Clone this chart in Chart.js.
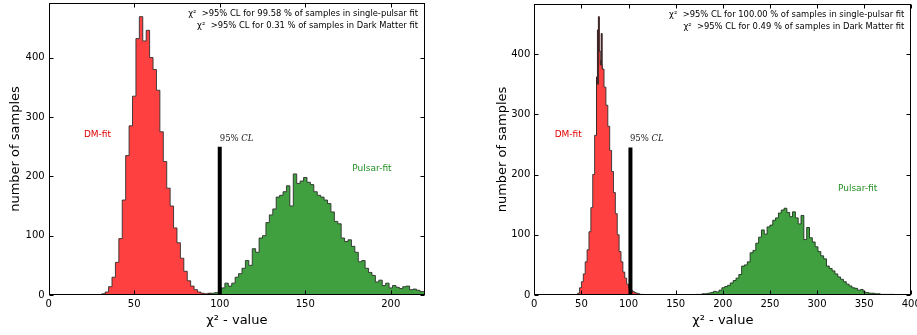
<!DOCTYPE html>
<html>
<head>
<meta charset="utf-8">
<script src="https://cdn.jsdelivr.net/npm/chart.js@4.4.1/dist/chart.umd.min.js"></script>
<style>
  body { margin: 0; background: #fff; }
  .panel { position: absolute; top: 0; height: 335px; overflow: hidden; }
</style>
</head>
<body>
<div class="panel" style="left:0;width:458px"><canvas id="leftChart" width="458" height="335"></canvas></div>
<div class="panel" style="left:458px;width:459px"><canvas id="rightChart" width="490" height="335"></canvas></div>
<script>
// Tick labels
const yTicks = [0, 100, 200, 300, 400];
const leftXTicks = [0, 50, 100, 150, 200];
const rightXTicks = [0, 50, 100, 150, 200, 250, 300, 350, 400];

// Left panel: chi^2 histograms, bins of 2
const leftBinWidth = 2;
const leftDmStart = 31;
const leftDmCounts = [2, 5, 14, 30, 55, 95, 160, 235, 285, 335, 432, 469, 428, 446, 400, 380, 345,
    275, 225, 180, 150, 113, 88, 62, 40, 24, 15, 9, 5, 3, 2, 2, 1];
const leftPulsarStart = 93;
const leftPulsarCounts = [3, 3, 4, 4, 12, 20, 15, 20, 30, 36, 45, 58, 50, 78, 72, 96, 100, 122, 135,
    145, 165, 168, 174, 184, 150, 204, 188, 192, 198, 190, 186, 174, 168, 165, 160, 154, 140, 124,
    120, 96, 90, 93, 82, 72, 56, 58, 45, 38, 33, 22, 25, 16, 20, 12, 16, 13, 11, 14, 15, 9, 10, 8, 6, 6];
const leftCL = 100;
const leftCLHeight = 250;

// Right panel
const rightDmBinWidth = 2;
const rightDmStart = 46;
const rightDmCounts = [3, 12, 22, 35, 55, 75, 105, 145, 200, 265, 350, 405, 382, 375, 345, 315, 280,
    240, 205, 170, 135, 100, 72, 55, 38, 28, 18, 12, 8, 6, 4, 3, 2, 1, 1];
// finer-binned spikes that show dark above the red peak
const rightPeakBinWidth = 1;
const rightPeakStart = 66;
const rightPeakCounts = [362, 440, 462, 390, 385, 434, 370];
const rightPulsarBinWidth = 3;
const rightPulsarStart = 172;
const rightPulsarCounts = [1, 1, 2, 2, 3, 4, 6, 5, 8, 12, 14, 16, 20, 24, 28, 34, 48, 50, 55, 70, 74,
    86, 96, 108, 101, 113, 116, 124, 128, 136, 141, 144, 137, 130, 138, 128, 118, 132, 92, 112, 95,
    88, 80, 72, 65, 60, 48, 44, 40, 35, 30, 26, 22, 18, 15, 12, 11, 8, 9, 5, 4, 3, 3, 2, 2, 1, 1, 1, 1, 1];
const rightCL = 102;
const rightCLHeight = 245;

Chart.defaults.font.family = 'DejaVu Sans';
Chart.defaults.color = '#000';

// Turn bin counts into step outline points
function histPoints(start, width, counts) {
    const pts = [{ x: start, y: 0 }];
    counts.forEach((c, i) => pts.push({ x: start + i * width, y: c }));
    pts.push({ x: start + counts.length * width, y: 0 });
    return pts;
}

function histDataset(points, fill, edge, order) {
    return {
        data: points,
        stepped: true,
        fill: 'origin',
        backgroundColor: fill,
        borderColor: edge,
        borderWidth: 1,
        pointRadius: 0,
        order
    };
}

function clDataset(x, h) {
    return {
        data: [{ x, y: 0 }, { x, y: h }],
        borderColor: '#000',
        borderWidth: 4,
        pointRadius: 0,
        order: 0
    };
}

// Frame, inward ticks and text labels
const panelDecor = {
    id: 'panelDecor',
    afterDatasetsDraw(chart, args, opts) {
        const { ctx, chartArea: a, scales: { x, y } } = chart;
        const L = Math.round(a.left) + 0.5, R = Math.round(a.right) - 0.5;
        const T = Math.round(a.top) + 0.5, B = Math.round(a.bottom) - 0.5;
        ctx.save();
        ctx.strokeStyle = '#000';
        ctx.lineWidth = 1;
        ctx.strokeRect(L, T, R - L, B - T);
        ctx.beginPath();
        x.ticks.forEach(t => {
            const px = Math.round(x.getPixelForValue(t.value)) + 0.5;
            ctx.moveTo(px, B); ctx.lineTo(px, B - 4);
            ctx.moveTo(px, T); ctx.lineTo(px, T + 4);
        });
        y.ticks.forEach(t => {
            const py = Math.round(y.getPixelForValue(t.value)) + 0.5;
            ctx.moveTo(L, py); ctx.lineTo(L + 4, py);
            ctx.moveTo(R, py); ctx.lineTo(R - 4, py);
        });
        ctx.stroke();

        // header lines, top right
        ctx.font = '8.4px "DejaVu Sans"';
        ctx.textAlign = 'right';
        ctx.textBaseline = 'middle';
        ctx.fillStyle = '#000';
        opts.header.forEach((line, i) => ctx.fillText(line, a.right - 7, a.top + 11 + i * 12));

        // fit labels
        ctx.font = '9px "DejaVu Sans"';
        ctx.textAlign = 'center';
        ctx.fillStyle = '#e00000';
        ctx.fillText('DM-fit', x.getPixelForValue(opts.dm[0]), y.getPixelForValue(opts.dm[1]));
        ctx.fillStyle = '#239023';
        ctx.fillText('Pulsar-fit', x.getPixelForValue(opts.pulsar[0]), y.getPixelForValue(opts.pulsar[1]));

        // 95% CL label
        ctx.textAlign = 'left';
        ctx.fillStyle = '#222';
        let cx = x.getPixelForValue(opts.cl[0]);
        const cy = y.getPixelForValue(opts.cl[1]);
        ctx.font = '8.5px "DejaVu Serif"';
        ctx.fillText('95% ', cx, cy);
        cx += ctx.measureText('95% ').width;
        ctx.font = 'italic 8.5px "DejaVu Serif"';
        ctx.fillText('CL', cx, cy);
        ctx.restore();
    }
};

function makeChart(id, p) {
    return new Chart(document.getElementById(id), {
        type: 'line',
        data: { datasets: p.datasets },
        options: {
            responsive: false,
            animation: false,
            layout: { padding: p.padding },
            plugins: {
                legend: { display: false },
                tooltip: { enabled: false },
                panelDecor: p.decor
            },
            scales: {
                x: {
                    type: 'linear',
                    min: 0,
                    max: p.xMax,
                    grid: { display: false, drawTicks: false },
                    border: { display: false },
                    ticks: { font: { size: 10 }, padding: 3, maxRotation: 0 },
                    afterBuildTicks: s => { s.ticks = p.xTicks.map(v => ({ value: v })); },
                    afterFit: s => {
                        s.height = 40;
                        s.paddingLeft = s.paddingRight = 0;
                    },
                    title: {
                        display: true,
                        text: '\u03c7\u00b2 - value',
                        font: { size: 13 },
                        padding: { top: 0, bottom: 6.7 }
                    }
                },
                y: {
                    min: 0,
                    max: p.yMax,
                    grid: { display: false, drawTicks: false },
                    border: { display: false },
                    ticks: { font: { size: 10 }, padding: 4 },
                    afterBuildTicks: s => { s.ticks = yTicks.map(v => ({ value: v })); },
                    afterFit: s => {
                        s.width = p.yWidth;
                        s.paddingTop = s.paddingBottom = 0;
                    },
                    title: {
                        display: true,
                        text: 'number of samples',
                        font: { size: 13 },
                        padding: { top: 8, bottom: 0 }
                    }
                }
            }
        },
        plugins: [panelDecor]
    });
}

const edge = 'rgba(40,40,40,0.85)';

makeChart('leftChart', {
    xMax: 220,
    yMax: 492,
    xTicks: leftXTicks,
    padding: { left: 0, right: 33, top: 3, bottom: 0 },
    yWidth: 48.7,
    datasets: [
        clDataset(leftCL, leftCLHeight),
        histDataset(histPoints(leftDmStart, leftBinWidth, leftDmCounts), '#ff4040', edge, 1),
        histDataset(histPoints(leftPulsarStart, leftBinWidth, leftPulsarCounts), '#40a040', edge, 2)
    ],
    decor: {
        header: ['\u03c7\u00b2  >95% CL for 99.58 % of samples in single-pulsar fit',
                 '\u03c7\u00b2  >95% CL for 0.31 % of samples in Dark Matter fit'],
        dm: [28.5, 270],
        pulsar: [189, 213],
        cl: [100, 264]
    }
});

makeChart('rightChart', {
    xMax: 400,
    yMax: 483,
    xTicks: rightXTicks,
    padding: { left: 28.5, right: 36.7, top: 4, bottom: 0 },
    yWidth: 47.8,
    datasets: [
        clDataset(rightCL, rightCLHeight),
        histDataset(histPoints(rightDmStart, rightDmBinWidth, rightDmCounts), '#ff4040', edge, 1),
        histDataset(histPoints(rightPeakStart, rightPeakBinWidth, rightPeakCounts), '#4a2424', '#3a2020', 3),
        histDataset(histPoints(rightPulsarStart, rightPulsarBinWidth, rightPulsarCounts), '#40a040', 'rgba(30,50,30,0.9)', 2)
    ],
    decor: {
        header: ['\u03c7\u00b2  >95% CL for 100.00 % of samples in single-pulsar fit',
                 '\u03c7\u00b2  >95% CL for 0.49 % of samples in Dark Matter fit'],
        dm: [36, 266],
        pulsar: [343, 176],
        cl: [101.5, 260]
    }
});
</script>
</body>
</html>
